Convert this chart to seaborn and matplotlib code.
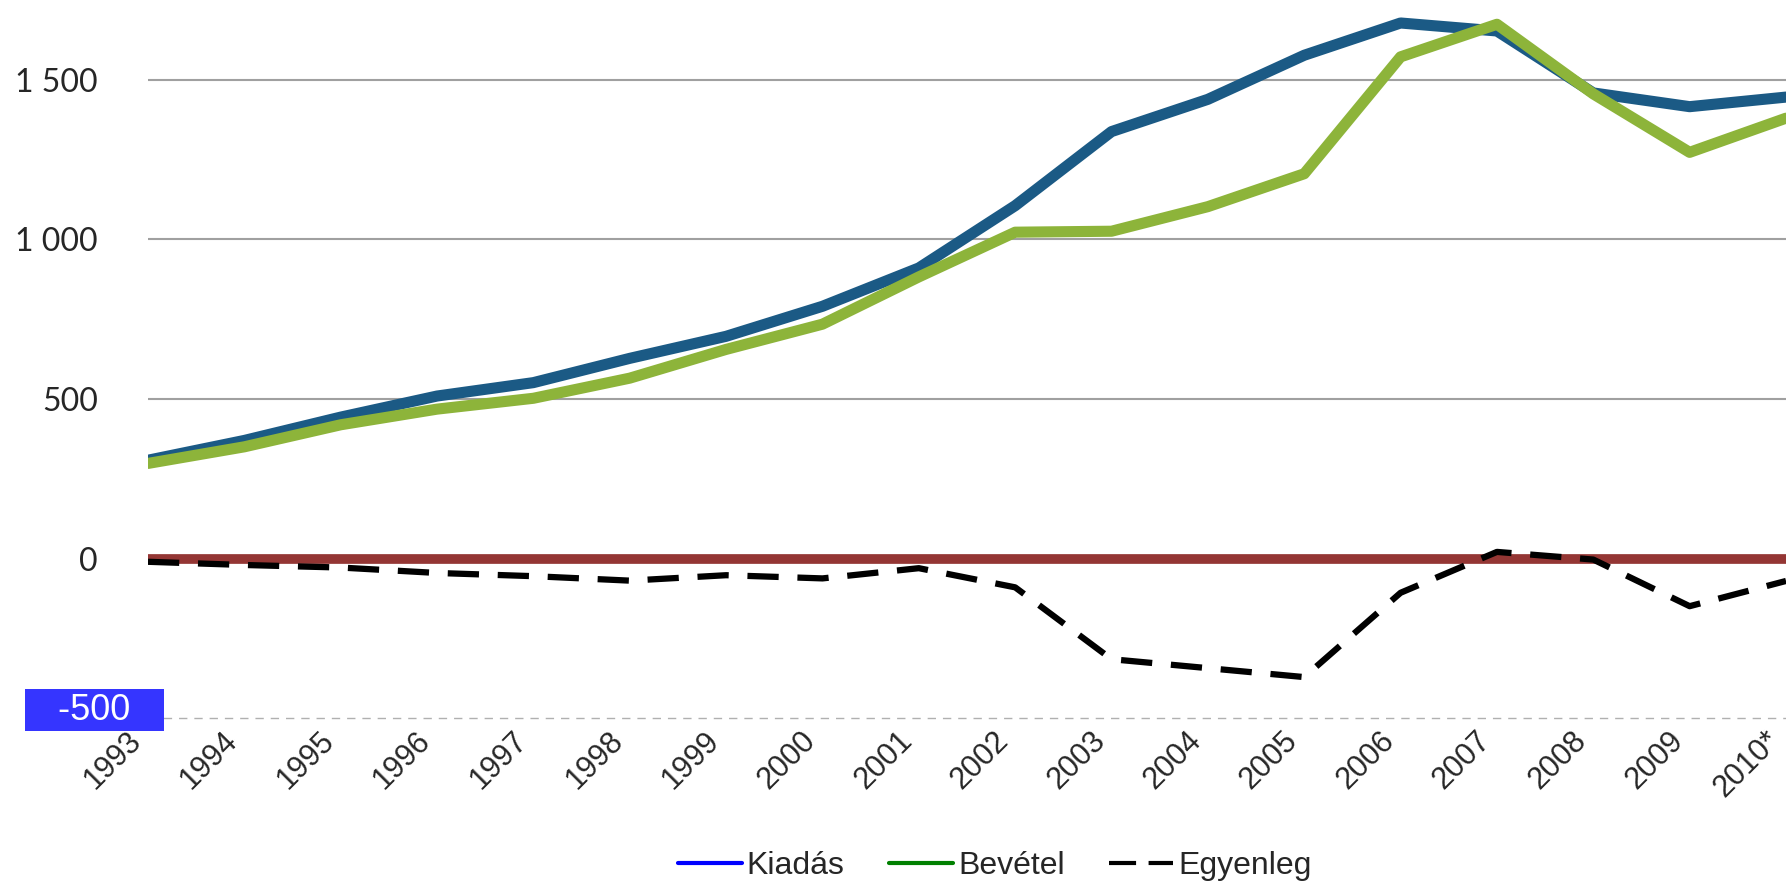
import numpy as np
import pandas as pd
import matplotlib.pyplot as plt
import matplotlib.transforms as mtransforms
from matplotlib.lines import Line2D
import seaborn as sns

# ===== DATA ==================================================================

years = ['1993', '1994', '1995', '1996', '1997', '1998', '1999', '2000', '2001',
         '2002', '2003', '2004', '2005', '2006', '2007', '2008', '2009', '2010*']
kiadas   = [308, 370, 443, 509, 551, 627, 696, 790, 910, 1105, 1337, 1438,
            1576, 1677, 1652, 1458, 1415, 1445]
bevetel  = [298, 350, 419, 468, 502, 565, 655, 734, 882, 1022, 1025, 1102,
            1205, 1571, 1673, 1455, 1272, 1379]
egyenleg = [-10, -20, -28, -45, -55, -69, -52, -62, -30, -90, -315, -343,
            -371, -107, 21, -3, -149, -70]

y_ticks  = [0, 500, 1000, 1500]
y_labels = ['0', '500', '1 000', '1 500']
neg_tick = -500
legend_labels = ['Kiadás', 'Bevétel', 'Egyenleg']

# ===== STYLE =================================================================

sns.set_style('white')
plt.rcParams['font.family'] = ['Liberation Sans', 'DejaVu Sans']

df = pd.DataFrame({'pos': np.arange(len(years)), 'year': years,
                   'Kiadás': kiadas, 'Bevétel': bevetel, 'Egyenleg': egyenleg})

W, H = 1786, 884
fig = plt.figure(figsize=(W / 100, H / 100), dpi=100)
ax = fig.add_axes([148 / W, 1 - 725 / H, 1 - 148 / W, 725 / H])

# reference lines
for v in y_ticks[1:]:
    ax.axhline(v, color='#a0a0a0', lw=1.5, zorder=1)
ax.axhline(neg_tick, color='#b0b0b0', lw=1.0, ls=(0, (6, 5)), zorder=1)
ax.axhline(0, color='#943634', lw=7, zorder=2)

# series
sns.lineplot(data=df, x='pos', y='Kiadás', color='#1b5a85', lw=8,
             ax=ax, zorder=3, legend=False)
sns.lineplot(data=df, x='pos', y='Bevétel', color='#8db43a', lw=8,
             ax=ax, zorder=4, legend=False)
sns.lineplot(data=df, x='pos', y='Egyenleg', color='black', lw=4.5,
             linestyle=(0, (5, 3)), ax=ax, zorder=5, legend=False)

ax.set_xlim(0, len(years) - 1)
ax.set_ylim(-521, 1749)
ax.set_xlabel('')
ax.set_ylabel('')
for s in ax.spines.values():
    s.set_visible(False)

# x ticks
ax.set_xticks(df['pos'])
ax.set_xticklabels(years, rotation=45, ha='right', va='center',
                   rotation_mode='anchor', fontsize=22)
ax.tick_params(axis='x', length=0, pad=8)
shift = mtransforms.ScaledTranslation(-11 / 100, 0, fig.dpi_scale_trans)
for lab in ax.get_xticklabels():
    lab.set_transform(lab.get_transform() + shift)

# y ticks
ax.set_yticks(y_ticks)
ax.set_yticklabels(y_labels, fontfamily='Lato', fontsize=23)
ax.tick_params(axis='y', length=0, pad=36)

# -500 label in blue box
trans = mtransforms.blended_transform_factory(ax.transAxes, ax.transData)
up = mtransforms.ScaledTranslation(0, 8 / 100, fig.dpi_scale_trans)
ax.text(-0.0327, neg_tick, '   -500   ', transform=trans + up, ha='center',
        va='center', color='white', fontsize=26, clip_on=False, zorder=6,
        bbox=dict(boxstyle='square,pad=0.1', fc='#3535ff', ec='none'))

# legend
handles = [Line2D([], [], color='#0000ff', lw=3),
           Line2D([], [], color='#008000', lw=3),
           Line2D([], [], color='black', lw=3, ls=(0, (6.5, 3)))]
fig.legend(handles, legend_labels, loc='center', bbox_to_anchor=(0.557, 0.02),
           ncol=3, frameon=False, fontsize=23, handlelength=2.0,
           handletextpad=0.15, columnspacing=1.4)

fig.savefig('out.png', dpi=100)
